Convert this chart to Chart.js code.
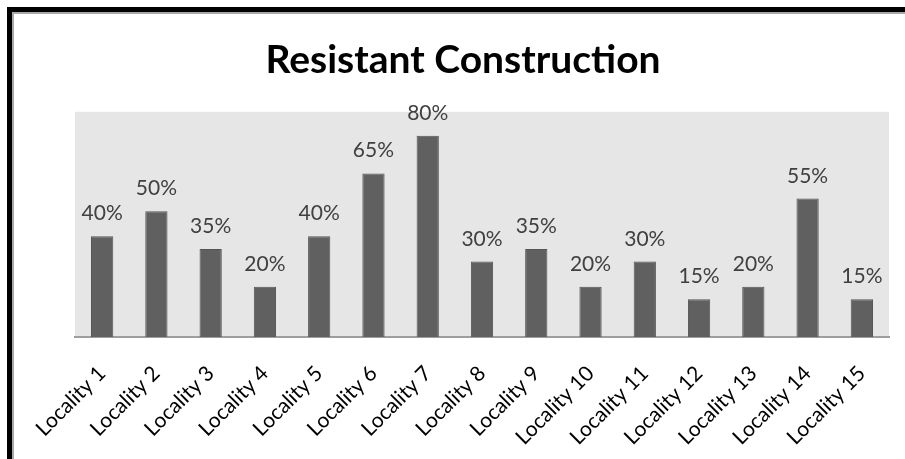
<!DOCTYPE html>
<html>
<head>
<meta charset="utf-8">
<title>Resistant Construction</title>
<script src="https://cdn.jsdelivr.net/npm/chart.js@4/dist/chart.umd.min.js"></script>
<style>
  html, body { margin: 0; padding: 0; background: #fff; overflow: hidden; }
  #wrap { position: relative; width: 905px; height: 459px; }
  #chart { position: absolute; left: 0; top: 0; }
  /* heavy frame on the top and left edges */
  #frame {
    position: absolute; left: 7px; top: 7px; width: 1000px; height: 1000px;
    border-left: 5px solid #000; border-top: 5px solid #000;
    box-shadow: inset 2px 2px 0 #a8a8a8;
    pointer-events: none;
  }
</style>
</head>
<body>
<div id="wrap">
  <canvas id="chart" width="905" height="459"></canvas>
  <div id="frame"></div>
</div>
<script>
const localities = [
  "Locality 1", "Locality 2", "Locality 3", "Locality 4", "Locality 5",
  "Locality 6", "Locality 7", "Locality 8", "Locality 9", "Locality 10",
  "Locality 11", "Locality 12", "Locality 13", "Locality 14", "Locality 15"
];
const resistantPct = [40, 50, 35, 20, 40, 65, 80, 30, 35, 20, 30, 15, 20, 55, 15];
const chartTitle = "Resistant Construction";

// light grey plot area behind the bars
const plotBackground = {
    id: "plotBackground",
    beforeDraw(chart) {
        const { ctx, chartArea } = chart;
        ctx.save();
        ctx.fillStyle = "#ffffff";
        ctx.fillRect(0, 0, chart.width, chart.height);
        ctx.fillStyle = "#e6e6e6";
        ctx.fillRect(chartArea.left, chartArea.top, chartArea.right - chartArea.left, chartArea.bottom - chartArea.top);
        ctx.restore();
    }
};

// percentage printed above each bar
const valueLabels = {
    id: "valueLabels",
    afterDatasetsDraw(chart) {
        const { ctx } = chart;
        const meta = chart.getDatasetMeta(0);
        ctx.save();
        ctx.font = "21px Lato";
        ctx.fillStyle = "#404040";
        ctx.textAlign = "center";
        ctx.textBaseline = "alphabetic";
        meta.data.forEach((bar, i) => {
            ctx.fillText(resistantPct[i] + "%", bar.x, bar.y - 16);
        });
        ctx.restore();
    }
};

new Chart(document.getElementById("chart"), {
    type: "bar",
    data: {
        labels: localities,
        datasets: [{
            label: chartTitle,
            data: resistantPct,
            backgroundColor: "#606060",
            borderColor: "#555555",
            borderWidth: 1,
            categoryPercentage: 1,
            barPercentage: 0.41
        }]
    },
    options: {
        responsive: false,
        animation: false,
        events: [],
        layout: {
            padding: { left: 37, right: 16, top: 0, bottom: 0 }
        },
        plugins: {
            legend: { display: false },
            tooltip: { enabled: false },
            title: {
                display: true,
                text: chartTitle,
                color: "#000000",
                font: { family: "Lato", size: 39, weight: "bold" },
                padding: { top: 37, bottom: 28 }
            }
        },
        scales: {
            x: {
                offset: true,
                grid: { display: false, drawTicks: false },
                border: { display: true, color: "#9e9e9e", width: 2 },
                ticks: {
                    color: "#000000",
                    font: { family: "Lato", size: 21 },
                    minRotation: 45,
                    maxRotation: 45,
                    autoSkip: false,
                    padding: 24
                },
                afterFit(scale) { scale.height = 122; }
            },
            y: {
                min: 0,
                max: 89.5,
                grid: { display: false },
                border: { display: false },
                ticks: { display: false },
                afterFit(scale) { scale.width = 38; }
            }
        }
    },
    plugins: [plotBackground, valueLabels]
});
</script>
</body>
</html>
